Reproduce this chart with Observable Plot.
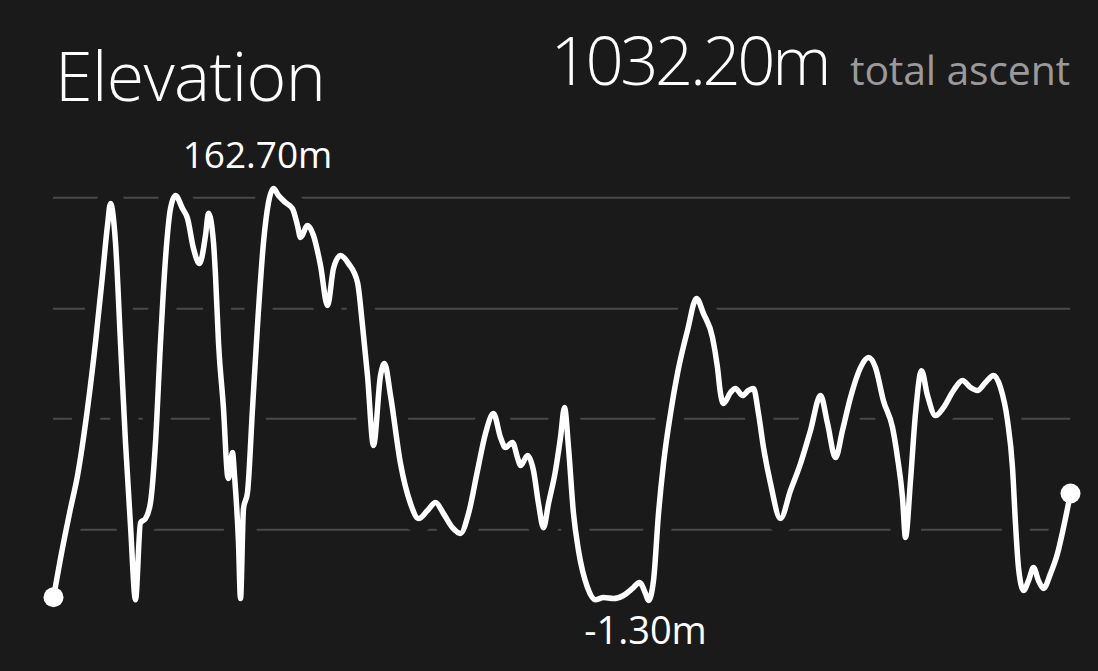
<!DOCTYPE html>
<html>
<head>
<meta charset="utf-8">
<script src="https://cdn.jsdelivr.net/npm/d3@7"></script>
<script src="https://cdn.jsdelivr.net/npm/@observablehq/plot@0.6"></script>
<style>
  html, body { margin: 0; padding: 0; background: #1a1a1a; }
  #wrap { width: 1098px; height: 671px; position: relative; overflow: hidden; background: #1a1a1a; }
  #header { position: relative; width: 1098px; height: 130px; font-family: "Open Sans", sans-serif; color: #fff; }
  #title { position: absolute; left: 55px; top: 41px; font-size: 68px; font-weight: 300; line-height: 1; white-space: nowrap; letter-spacing: -0.6px; }
  #ascent { position: absolute; right: 28px; top: 26px; line-height: 1; white-space: nowrap; }
  #ascent .big { font-size: 67px; font-weight: 300; letter-spacing: -3.4px; }
  #ascent .small { font-size: 41px; font-weight: 400; color: #9a9a9a; margin-left: 22px; letter-spacing: -0.2px; }
  svg { display: block; }
</style>
</head>
<body>
<div id="wrap">
  <div id="header">
    <div id="title">Elevation</div>
    <div id="ascent"><span class="big" id="asc"></span><span class="small">total ascent</span></div>
  </div>
  <div id="chart"></div>
</div>
<script>
// Distance along route (km) and elevation (m)
const distKm = [0.00,0.07,0.17,0.24,0.34,0.42,0.49,0.54,0.57,0.62,0.67,0.72,0.77,0.82,0.87,0.92,0.97,1.02,1.07,1.12,
1.17,1.22,1.29,1.34,1.40,1.46,1.52,1.55,1.60,1.62,1.65,1.70,1.74,1.75,1.79,1.81,1.85,1.87,1.90,1.94,
1.99,2.04,2.10,2.15,2.20,2.25,2.32,2.39,2.44,2.47,2.54,2.60,2.67,2.74,2.80,2.87,2.95,3.04,3.09,3.14,
3.20,3.27,3.31,3.37,3.47,3.57,3.65,3.74,3.82,3.90,3.99,4.07,4.15,4.24,4.32,4.40,4.47,4.52,4.59,4.64,
4.67,4.74,4.80,4.85,4.90,4.95,5.02,5.07,5.11,5.15,5.20,5.25,5.34,5.42,5.50,5.60,5.70,5.79,5.86,5.92,
5.95,6.00,6.05,6.10,6.17,6.24,6.34,6.43,6.50,6.59,6.64,6.67,6.70,6.77,6.82,6.89,6.95,7.00,7.05,7.10,
7.17,7.27,7.37,7.47,7.57,7.67,7.74,7.82,7.89,7.97,8.07,8.15,8.22,8.30,8.39,8.44,8.49,8.52,8.57,8.62,
8.68,8.74,8.82,8.90,9.00,9.09,9.17,9.24,9.32,9.40,9.47,9.54,9.59,9.62,9.65,9.70,9.75,9.80,9.85,9.90,
9.97,10.04,10.10,10.17];
const elevM = [0.0,15.4,35.3,48.4,75.1,101.4,128.1,148.0,156.7,141.2,101.4,61.6,28.5,-1.0,29.7,31.3,37.7,61.6,101.4,134.8,
154.7,159.9,154.7,150.8,138.8,132.8,144.0,152.8,141.2,128.1,101.4,75.1,48.4,47.3,57.6,48.4,21.8,-0.5,35.3,41.7,
75.1,108.2,141.2,157.1,162.7,159.9,157.1,154.7,148.0,143.2,148.0,144.0,132.1,116.1,130.9,136.0,132.8,125.3,108.2,88.3,
60.4,88.3,93.0,80.3,53.2,37.3,31.3,34.5,37.7,33.3,27.7,25.4,33.3,50.4,65.2,73.1,63.6,59.6,61.6,55.6,
52.4,56.4,50.4,37.3,27.7,37.3,50.4,63.6,75.5,59.6,33.3,18.6,3.9,-1.0,-0.1,-0.5,0.7,3.5,5.9,1.5,
-1.3,6.6,33.3,53.2,73.1,89.1,106.2,118.9,112.9,103.4,91.4,81.1,77.1,81.5,83.1,80.3,82.3,83.1,73.1,59.6,
45.3,31.3,42.5,53.2,66.4,80.3,69.2,55.6,66.4,79.5,91.4,95.4,91.4,78.1,67.6,55.6,39.7,23.8,46.5,73.1,
90.2,80.3,72.3,75.5,82.3,86.3,83.5,82.3,85.5,88.3,83.5,70.3,51.6,29.3,11.8,2.7,6.6,11.8,6.6,3.5,
9.4,17.4,27.7,41.3];
const gridElev = [26.9, 71.0, 114.8, 159.0];
const totalAscent = 1032.20;

const data = distKm.map((d, i) => ({d, e: elevM[i]}));
const maxI = d3.maxIndex(elevM);
const minI = d3.minIndex(elevM);
const xMax = distKm[distKm.length - 1];

document.getElementById("asc").textContent = totalAscent.toFixed(2) + "m";

const bg = "#1a1a1a";
const chart = Plot.plot({
  width: 1098,
  height: 541,
  margin: 0,
  style: {background: bg, color: "#fff", fontFamily: "Open Sans, sans-serif", overflow: "visible"},
  x: {domain: [0, xMax], range: [53, 1070], axis: null},
  y: {domain: [-1.3, 162.7], range: [470, 58], axis: null},
  marks: [
    Plot.ruleY(gridElev, {x1: 0, x2: xMax, stroke: "#4a4a4a", strokeWidth: 2, strokeOpacity: 1}),
    Plot.line(data, {x: "d", y: "e", stroke: bg, strokeWidth: 28, curve: "monotone-x"}),
    Plot.line(data, {x: "d", y: "e", stroke: "#fff", strokeWidth: 5.5, curve: "monotone-x"}),
    Plot.dot([data[0], data[data.length - 1]], {x: "d", y: "e", r: 10, fill: "#fff", stroke: "none"}),
    Plot.text([data[maxI]], {x: "d", y: "e", text: d => d.e.toFixed(2) + "m", lineAnchor: "bottom", dy: -21, dx: -16, fontSize: 37, fill: "#fff"}),
    Plot.text([data[minI]], {x: "d", y: "e", text: d => d.e.toFixed(2) + "m", lineAnchor: "bottom", dy: 43, dx: -3, fontSize: 38, fill: "#fff"})
  ]
});
document.getElementById("chart").appendChild(chart);
</script>
</body>
</html>
